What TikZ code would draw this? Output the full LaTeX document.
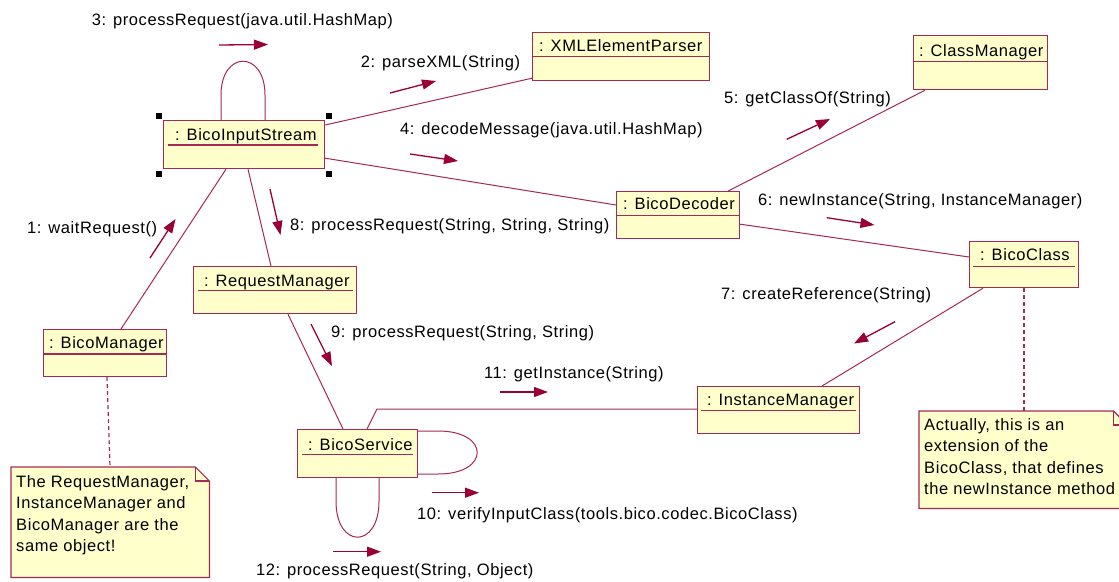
\documentclass[tikz,border=0pt]{standalone}
\usepackage{fontspec}
\setmainfont{Liberation Sans}[LetterSpace=3.5]
\usetikzlibrary{arrows.meta}

\definecolor{umlline}{RGB}{166,41,84}
\definecolor{umlfill}{RGB}{255,255,204}
\definecolor{msgcol}{RGB}{153,0,51}

\tikzset{
  objbox/.style={draw=umlline, fill=umlfill, line width=1.2pt, inner sep=0pt,
    anchor=north west, rectangle},
  objname/.style={anchor=west, inner sep=0pt, text height=11.5pt, text depth=3.5pt},
  uline/.style={draw=umlline, line width=1.1pt},
  link/.style={draw=umlline, line width=1pt},
  notelink/.style={draw=umlline, line width=1.2pt, dash pattern=on 4pt off 3pt},
  msg/.style={draw=msgcol, line width=1.3pt, -{Triangle[length=14pt,width=10pt]}},
  msglabel/.style={anchor=west, inner sep=0pt, text height=11.5pt, text depth=3.5pt},
  notebox/.style={inner sep=0pt, anchor=north west, rectangle},
  notetext/.style={anchor=north west, inner sep=0pt, align=left,
    font=\fontsize{16.5}{21.3}\selectfont},
  handle/.style={fill=black},
}

\begin{document}
\begin{tikzpicture}[x=1pt, y=-1pt, font=\fontsize{16.5}{21}\selectfont]
\useasboundingbox (0,0) rectangle (1119,581);
\fill[white] (0,0) rectangle (1119,581);
\clip (0,0) rectangle (1119,581);

% ---------- object boxes ----------
\node[objbox, minimum width=161pt, minimum height=48pt] (bis) at (163,120) {};
\node[objbox, minimum width=177pt, minimum height=48pt] (xml) at (532,32) {};
\node[objbox, minimum width=134pt, minimum height=54pt] (cm)  at (913,35) {};
\node[objbox, minimum width=123pt, minimum height=47pt] (bd)  at (616,191) {};
\node[objbox, minimum width=109pt, minimum height=46pt] (bc)  at (969,241) {};
\node[objbox, minimum width=162pt, minimum height=47pt] (im)  at (697,386) {};
\node[objbox, minimum width=120pt, minimum height=48pt] (bs)  at (297,429) {};
\node[objbox, minimum width=163pt, minimum height=47pt] (rm)  at (193,266) {};
\node[objbox, minimum width=123pt, minimum height=47pt] (bm)  at (43,329) {};

% names
\node[objname] (bisn) at ([xshift=12pt,yshift=-16pt]bis.north west) {: BicoInputStream};
\node[objname] (xmln) at ([xshift=7pt,yshift=-15pt]xml.north west) {: XMLElementParser};
\node[objname] (cmn)  at ([xshift=6pt,yshift=-17pt]cm.north west) {: ClassManager};
\node[objname] (bdn)  at ([xshift=7pt,yshift=-14.5pt]bd.north west) {: BicoDecoder};
\node[objname] (bcn)  at ([xshift=11pt,yshift=-15.5pt]bc.north west) {: BicoClass};
\node[objname] (imn)  at ([xshift=10pt,yshift=-15.5pt]im.north west) {: InstanceManager};
\node[objname] (bsn)  at ([xshift=11pt,yshift=-17pt]bs.north west) {: BicoService};
\node[objname] (rmn)  at ([xshift=11pt,yshift=-16pt]rm.north west) {: RequestManager};
\node[objname] (bmn)  at ([xshift=6pt,yshift=-15pt]bm.north west) {: BicoManager};

% underlines / compartment lines
\draw[uline] ([xshift=5pt,yshift=-25pt]bis.north west) -- ([xshift=-7pt,yshift=-25pt]bis.north east);
\draw[uline] ([yshift=-24.7pt]xml.north west) -- ([yshift=-24.7pt]xml.north east);
\draw[uline] ([yshift=-26.7pt]cm.north west) -- ([yshift=-26.7pt]cm.north east);
\draw[uline] ([yshift=-24.3pt]bd.north west) -- ([yshift=-24.3pt]bd.north east);
\draw[uline] ([xshift=4pt,yshift=-25.3pt]bc.north west) -- ([xshift=-4pt,yshift=-25.3pt]bc.north east);
\draw[uline] ([xshift=4pt,yshift=-24.7pt]im.north west) -- ([xshift=-4pt,yshift=-24.7pt]im.north east);
\draw[uline] ([xshift=5pt,yshift=-25.5pt]bs.north west) -- ([xshift=-5pt,yshift=-25.5pt]bs.north east);
\draw[uline] ([xshift=4.5pt,yshift=-24.3pt]rm.north west) -- ([xshift=-4pt,yshift=-24.3pt]rm.north east);
\draw[uline] ([yshift=-25pt]bm.north west) -- ([yshift=-25pt]bm.north east);

% selection handles
\fill[handle] ([shift={(-7pt,7pt)}]bis.north west) rectangle ++(6,6);
\fill[handle] ([shift={(1pt,7pt)}]bis.north east) rectangle ++(6,6);
\fill[handle] ([shift={(-7pt,-2pt)}]bis.south west) rectangle ++(6,6);
\fill[handle] ([shift={(1pt,-2pt)}]bis.south east) rectangle ++(6,6);

% ---------- notes ----------
\node[notebox, minimum width=198pt, minimum height=110pt] (n1) at (11,467) {};
\node[notebox, minimum width=208pt, minimum height=97pt] (n2) at (919,411) {};
\foreach \n in {n1,n2}{
  \filldraw[draw=umlline, fill=umlfill, line width=1.2pt]
    (\n.north west) -- ([xshift=-14pt]\n.north east) -- ([yshift=-14pt]\n.north east)
    -- (\n.south east) -- (\n.south west) -- cycle;
  \draw[umlline, line width=1.2pt]
    ([xshift=-14pt]\n.north east) -- ++(0,14) -- ([yshift=-14pt]\n.north east);
}
\node[notetext] (n1t) at ([xshift=5pt,yshift=-8.5pt]n1.north west)
  {The RequestManager,\\InstanceManager and\\BicoManager are the\\same object!};
\node[notetext] (n2t) at ([xshift=5pt,yshift=-7.5pt]n2.north west)
  {Actually, this is an\\extension of the\\BicoClass, that defines\\the newInstance method};

% ---------- links ----------
\draw[link] ([yshift=-5pt]bis.north east) -- ([yshift=3pt]xml.south west);
\draw[link] ([yshift=11pt]bis.south east) -- ([yshift=-14pt]bd.north west);
\draw[link] ([xshift=-12pt]bd.north east) -- ([xshift=12pt]cm.south west);
\draw[link] ([yshift=15pt]bd.south east) -- ([yshift=-16pt]bc.north west);
\draw[link] ([xshift=14pt]bc.south west) -- ([xshift=125pt]im.north west);
\draw[link] ([xshift=63pt]bis.south west) -- ([xshift=78pt]bm.north west);
\draw[link] ([xshift=85pt]bis.south west) -- ([xshift=78pt]rm.north west);
\draw[link] ([xshift=95pt]rm.south west) -- ([xshift=46pt]bs.north west);
\draw[link] ([xshift=70pt]bs.north west) -- ++(10,-20) -- ([yshift=-23pt]im.north west);

% self links
\draw[link] ([xshift=58pt]bis.north west) -- ++(0,-25)
  .. controls +(0,-45) and +(0,-45) .. ++(44,0) -- ++(0,25);
\draw[link] ([yshift=-2pt]bs.north east) -- ++(20,0)
  .. controls +(52,0) and +(52,0) .. ++(0,43) -- ++(-20,0);
\draw[link] ([xshift=39pt]bs.south west) -- ++(0,23)
  .. controls +(0,48) and +(0,48) .. ++(43,0) -- ++(0,-23);

% note anchors
\draw[notelink] ([xshift=64pt]bm.south west) -- ([xshift=99pt]n1.north west);
\draw[notelink] ([xshift=55pt]bc.south west) -- ([xshift=105pt]n2.north west);

% ---------- messages ----------
\draw[msg] (219,45) -- (268,44.5);
\draw[msg] (390,93) -- (436,81);
\draw[msg] (410,154) -- (458,161);
\draw[msg] (786.7,139.3) -- (830,119);
\draw[msg] (826.7,217.7) -- (874.5,225);
\draw[msg] (895,321.7) -- (854,343.5);
\draw[msg] (270,189) -- (280.5,235);
\draw[msg] (150,258) -- (175.5,219);
\draw[msg] (311,324) -- (332,366);
\draw[msg] (500,392) -- (548,392);
\draw[msg] (431.7,492.7) -- (479,492.7);
\draw[msg] (333,551.7) -- (381,551.7);

\node[msglabel] (m3)  at (91.7,21)  {3: processRequest(java.util.HashMap)};
\node[msglabel] (m2)  at (360.7,63.3) {2: parseXML(String)};
\node[msglabel] (m4)  at (400,130) {4: decodeMessage(java.util.HashMap)};
\node[msglabel] (m5)  at (724,99) {5: getClassOf(String)};
\node[msglabel] (m6)  at (758,201) {6: newInstance(String, InstanceManager)};
\node[msglabel] (m7)  at (721,295) {7: createReference(String)};
\node[msglabel] (m8)  at (290,226.7) {8: processRequest(String, String, String)};
\node[msglabel] (m1)  at (27,229) {1: waitRequest()};
\node[msglabel] (m9)  at (331,333) {9: processRequest(String, String)};
\node[msglabel] (m11) at (484,374) {11: getInstance(String)};
\node[msglabel] (m10) at (417,515) {10: verifyInputClass(tools.bico.codec.BicoClass)};
\node[msglabel] (m12) at (256,571.7) {12: processRequest(String, Object)};
\end{tikzpicture}
\end{document}
